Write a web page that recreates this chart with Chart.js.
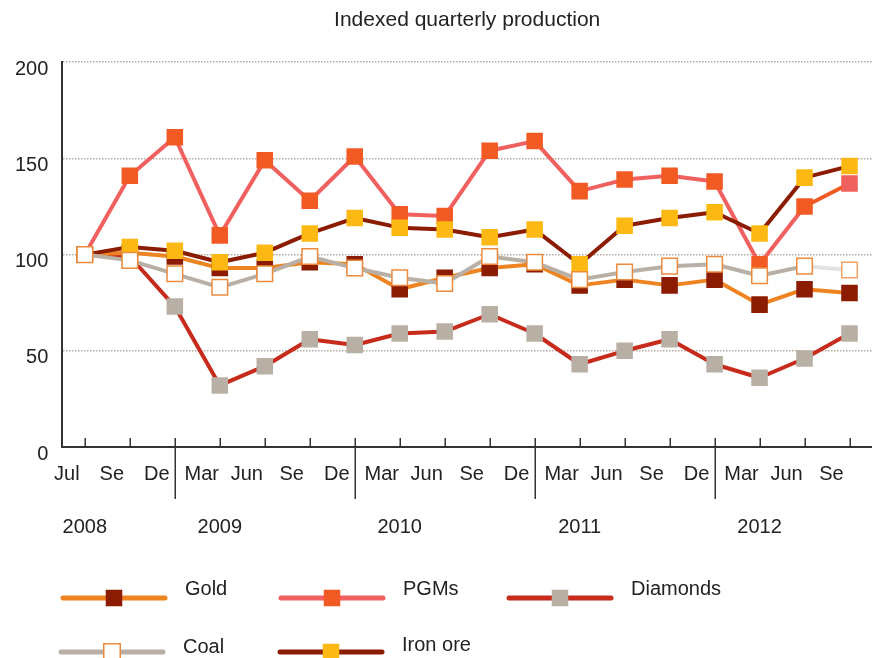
<!DOCTYPE html>
<html>
<head>
<meta charset="utf-8">
<script src="https://cdn.jsdelivr.net/npm/chart.js@4.4.1/dist/chart.umd.min.js"></script>
<style>
  body { margin: 0; background: #fff; }
  canvas { display: block; }
</style>
</head>
<body>
<canvas id="prodchart" width="872" height="658"></canvas>
<script>
// quarter-end months, Jul 2008 .. Sep 2012
const tickLabels = ["Jul", "Se", "De", "Mar", "Jun", "Se", "De", "Mar", "Jun", "Se", "De", "Mar", "Jun", "Se", "De", "Mar", "Jun", "Se"];
const years = ["2008", "2009", "2010", "2011", "2012"];
const yearStart = [0, 3, 7, 11, 15]; // index of first quarter shown for each year

const gold = [100, 101, 99, 93, 93, 96, 95, 82, 88, 93, 95, 84, 87, 84, 87, 74, 82, 80];
const pgms = [100, 141, 161, 110, 149, 128, 151, 121, 120, 154, 159, 133, 139, 141, 138, 95, 125, 137];
const diamonds = [100, 99, 73, 32, 42, 56, 53, 59, 60, 69, 59, 43, 50, 56, 43, 36, 46, 59];
const coal = [100, 97, 90, 83, 90, 99, 93, 88, 85, 99, 96, 87, 91, 94, 95, 89, 94, 92];
const ironOre = [100, 104, 102, 96, 101, 111, 119, 114, 113, 109, 113, 95, 115, 119, 122, 111, 140, 146];

const last = tickLabels.length - 1;

function series(label, data, line, marker, order, extra) {
  return Object.assign({
    label: label,
    data: data,
    order: order,
    borderColor: line,
    backgroundColor: marker,
    pointBackgroundColor: marker,
    pointBorderColor: marker,
    pointBorderWidth: 0,
    borderWidth: 4,
    borderJoinStyle: "round",
    borderCapStyle: "round",
    pointStyle: "rect",
    pointRadius: 11.7,
    pointHoverRadius: 11.7,
    tension: 0,
    fill: false,
    legendLine: line,
    legendFill: marker,
    legendStroke: marker,
  }, extra || {});
}

const datasets = [
  series("Gold", gold, "#ee8421", "#8b1c02", 3),
  series("PGMs", pgms, "#f0605f", "#f25a24", 4, {
    pointBackgroundColor: (c) => (c.dataIndex === last ? "#f0605f" : "#f25a24"),
    pointBorderColor: (c) => (c.dataIndex === last ? "#f0605f" : "#f25a24"),
    segment: { borderColor: (s) => (s.p1DataIndex === last ? "#f25a24" : undefined) },
  }),
  series("Diamonds", diamonds, "#c62b1b", "#b9b0a5", 5),
  series("Coal", coal, "#b9b0a5", "#ffffff", 1, {
    pointBorderColor: (c) => (c.dataIndex === last ? "#f3a46a" : "#ee8a3c"),
    pointBorderWidth: 1.5,
    pointRadius: 11,
    pointHoverRadius: 11,
    segment: { borderColor: (s) => (s.p1DataIndex === last ? "#e3e3e3" : undefined) },
    legendStroke: "#ee8a3c",
  }),
  series("Iron ore", ironOre, "#8b1c02", "#fdb913", 2),
];

// inward ticks, year dividers, year labels and the legend
const decor = {
  id: "decor",
  afterDraw(chart) {
    const { ctx, chartArea } = chart;
    const x = chart.scales.x;
    const base = chartArea.bottom;
    const majors = yearStart.slice(1).map((i) => i - 1);
    ctx.save();
    ctx.strokeStyle = "#333";
    ctx.lineWidth = 1.5;
    tickLabels.forEach((_, i) => {
      const px = Math.round(x.getPixelForValue(i)) + 0.25;
      ctx.beginPath();
      ctx.moveTo(px, base - 9);
      ctx.lineTo(px, majors.includes(i) ? base + 52 : base);
      ctx.stroke();
    });

    ctx.fillStyle = "#222";
    ctx.font = "20px 'Liberation Sans', Arial, sans-serif";
    ctx.textAlign = "center";
    ctx.textBaseline = "middle";
    years.forEach((y, k) => {
      ctx.fillText(y, x.getPixelForValue(yearStart[k]), base + 80);
    });

    const slots = [[61, 598, 589], [279, 598, 589], [507, 598, 589], [59, 652, 647], [278, 652, 645]];
    ctx.textAlign = "left";
    chart.data.datasets.forEach((ds, k) => {
      const [sx, sy, ty] = slots[k];
      ctx.strokeStyle = ds.legendLine;
      ctx.lineWidth = 5;
      ctx.lineCap = "round";
      ctx.beginPath();
      ctx.moveTo(sx + 2, sy);
      ctx.lineTo(sx + 104, sy);
      ctx.stroke();
      const m = 16.5;
      ctx.fillStyle = ds.legendFill;
      ctx.fillRect(sx + 53 - m / 2, sy - m / 2, m, m);
      if (ds.legendFill === "#ffffff") {
        ctx.strokeStyle = ds.legendStroke;
        ctx.lineWidth = 1.5;
        ctx.strokeRect(sx + 53 - m / 2, sy - m / 2, m, m);
      }
      ctx.fillStyle = "#222";
      ctx.fillText(ds.label, sx + 124, ty);
    });
    ctx.restore();
  },
};

Chart.defaults.font.family = "'Liberation Sans', Arial, sans-serif";
Chart.defaults.font.size = 20;
Chart.defaults.color = "#222";

new Chart(document.getElementById("prodchart"), {
  type: "line",
  data: { labels: tickLabels, datasets: datasets },
  options: {
    responsive: false,
    animation: false,
    events: [],
    layout: { autoPadding: false, padding: { left: 1, right: 0, top: 0, bottom: 172 } },
    plugins: {
      legend: { display: false },
      tooltip: { enabled: false },
      title: {
        display: true,
        text: "Indexed quarterly production",
        fullSize: false,
        font: { size: 21, weight: "normal" },
        color: "#222",
        padding: { top: 8, bottom: 29 },
      },
    },
    scales: {
      x: {
        type: "category",
        offset: true,
        grid: { display: false, drawTicks: true, tickLength: 15 },
        border: { display: true, color: "#333", width: 2 },
        ticks: {
          autoSkip: false,
          maxRotation: 0,
          minRotation: 0,
          labelOffset: -18,
          padding: 0,
          color: "#222",
        },
      },
      y: {
        min: 0,
        max: 200,
        grid: {
          color: (c) => (c.tick && c.tick.value === 0 ? "rgba(0,0,0,0)" : "#b3aa9f"),
          lineWidth: 1.5,
          drawTicks: false,
        },
        border: { display: true, color: "#333", width: 2, dash: [1.5, 1.5] },
        ticks: { stepSize: 50, padding: 14, labelOffset: 7, color: "#222" },
      },
    },
  },
  plugins: [decor],
});
</script>
</body>
</html>
